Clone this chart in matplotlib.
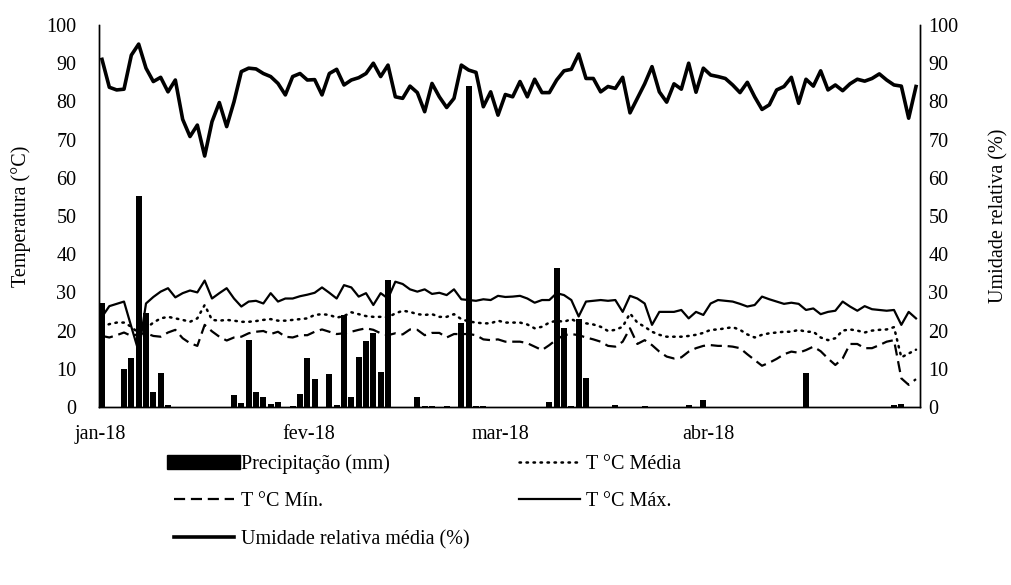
import matplotlib
matplotlib.use("Agg")
import matplotlib.pyplot as plt
import numpy as np
from matplotlib.lines import Line2D
from matplotlib.patches import Patch, Rectangle
from matplotlib.legend_handler import HandlerPatch

plt.rcParams['font.family'] = ['Liberation Serif', 'DejaVu Serif']

# ---------------- data ----------------
month_labels = ['jan-18', 'fev-18', 'mar-18', 'abr-18']

precip = [27.1, 0, 0, 9.9, 12.9, 55.2, 24.5, 4.0, 8.8, 0.4,
          0, 0, 0, 0, 0, 0, 0, 0, 3.1, 1.0,
          17.5, 4.0, 2.7, 0.9, 1.2, 0, 0.2, 3.4, 12.9, 7.3,
          0, 8.6, 0.5, 24.1, 2.7, 13.0, 17.4, 19.5, 9.1, 33.2,
          0, 0, 0, 2.7, 0.3, 0.3, 0, 0.3, 0, 22.1,
          84.0, 0.3, 0.3, 0, 0, 0, 0, 0, 0, 0,
          0, 1.4, 36.4, 20.6, 0.3, 23.0, 7.5, 0, 0, 0,
          0.5, 0, 0, 0, 0.2, 0, 0, 0, 0, 0,
          0.6, 0, 1.8, 0, 0, 0, 0, 0, 0, 0,
          0, 0, 0, 0, 0, 0, 8.8, 0, 0, 0,
          0, 0, 0, 0, 0, 0, 0, 0, 0.6, 0.8,
          0, 0]

t_media = [21.0, 21.7, 22.1, 22.1, 21.0, 19.3, 20.6, 22.1, 23.2, 23.6,
           23.2, 22.8, 22.3, 23.2, 26.7, 22.8, 22.6, 22.8, 22.6, 22.3,
           22.3, 22.5, 22.8, 23.0, 22.6, 22.6, 22.8, 23.0, 23.2, 24.1,
           24.3, 24.1, 23.4, 23.8, 24.8, 24.3, 23.8, 23.6, 23.6, 23.5,
           24.5, 25.2, 24.9, 24.3, 24.1, 24.3, 23.6, 23.6, 24.3, 23.0,
           22.4, 22.1, 21.9, 21.9, 22.6, 22.1, 22.1, 22.1, 21.6, 20.6,
           21.0, 22.1, 22.6, 22.3, 23.0, 22.1, 21.9, 21.6, 21.0, 19.9,
           20.2, 21.0, 24.5, 22.1, 21.0, 19.7, 18.9, 18.4, 18.4, 18.4,
           18.6, 18.9, 19.4, 20.2, 20.3, 20.6, 20.9, 20.2, 19.0, 18.2,
           18.9, 19.3, 19.5, 19.7, 19.7, 20.2, 19.7, 19.7, 18.2, 17.5,
           18.0, 20.0, 20.3, 20.0, 19.5, 20.0, 20.2, 20.3, 20.9, 13.0,
           14.0, 15.0]

t_min = [18.6, 18.2, 18.8, 19.5, 18.6, 19.1, 19.3, 18.6, 18.4, 19.5,
         20.2, 18.0, 16.7, 16.0, 21.5, 19.8, 18.4, 17.4, 18.2, 18.4,
         19.3, 19.7, 19.9, 19.1, 19.7, 18.4, 18.2, 18.8, 18.8, 19.7,
         20.3, 19.7, 19.1, 19.3, 19.7, 20.2, 20.6, 20.2, 19.3, 18.8,
         19.3, 19.0, 20.3, 20.2, 18.8, 19.4, 19.4, 18.2, 19.1, 19.1,
         19.1, 18.8, 17.7, 17.5, 17.7, 17.1, 17.1, 17.1, 16.7, 15.8,
         14.9, 16.2, 17.7, 18.8, 19.1, 18.8, 18.2, 17.7, 17.1, 16.0,
         15.8, 17.1, 20.6, 16.5, 17.5, 16.2, 14.5, 13.2, 12.7, 13.0,
         14.5, 15.4, 16.0, 16.2, 16.0, 16.0, 15.8, 15.4, 13.8, 12.3,
         10.8, 11.6, 12.6, 13.8, 14.5, 14.2, 14.9, 15.8, 14.6, 12.7,
         11.0, 12.7, 16.5, 16.5, 15.4, 15.4, 16.2, 17.1, 17.5, 7.5,
         5.8, 7.3]

t_max = [23.6, 26.4, 27.0, 27.6, 21.0, 14.5, 27.1, 28.8, 30.2, 31.1,
         28.7, 29.8, 30.5, 30.0, 33.1, 28.4, 29.8, 31.1, 28.4, 26.3,
         27.6, 27.8, 27.1, 29.8, 27.6, 28.4, 28.4, 29.0, 29.4, 29.9,
         31.3, 29.9, 28.4, 31.9, 31.3, 28.9, 29.8, 26.7, 29.8, 28.4,
         32.8, 32.2, 30.8, 30.2, 30.8, 29.6, 29.9, 29.3, 30.8, 28.2,
         28.0, 27.8, 28.2, 28.0, 29.1, 28.8, 28.9, 29.1, 28.4, 27.3,
         28.0, 28.0, 29.8, 29.3, 28.0, 23.7, 27.6, 27.8, 28.0, 27.8,
         28.0, 24.9, 29.1, 28.4, 27.1, 21.5, 24.9, 24.9, 24.9, 25.4,
         23.2, 24.9, 24.1, 27.1, 28.0, 27.8, 27.6, 27.0, 26.3, 26.7,
         28.9, 28.2, 27.6, 27.0, 27.3, 27.0, 25.4, 25.8, 24.3, 24.9,
         25.2, 27.6, 26.3, 25.2, 26.4, 25.6, 25.4, 25.2, 25.4, 21.5,
         24.9, 23.2]

umidade = [91.0, 83.7, 83.0, 83.2, 92.1, 95.0, 88.7, 85.2, 86.3, 82.5,
           85.6, 75.3, 70.8, 73.8, 65.7, 74.7, 79.7, 73.4, 79.9, 87.8,
           88.7, 88.5, 87.3, 86.5, 84.7, 81.7, 86.5, 87.3, 85.6, 85.7,
           81.7, 87.3, 88.4, 84.3, 85.6, 86.2, 87.3, 90.0, 86.5, 89.5,
           81.2, 80.8, 84.0, 82.3, 77.3, 84.7, 81.2, 78.4, 80.8, 89.5,
           88.2, 87.6, 78.6, 82.5, 76.4, 81.8, 81.2, 85.2, 81.2, 85.8,
           82.3, 82.3, 85.6, 88.0, 88.4, 92.4, 86.0, 86.0, 82.5, 83.9,
           83.4, 86.3, 77.0, 80.8, 84.6, 89.1, 82.5, 79.8, 84.6, 83.2,
           90.0, 82.4, 88.7, 86.9, 86.5, 86.0, 84.3, 82.3, 85.0, 81.2,
           77.9, 79.1, 83.0, 83.9, 86.3, 79.5, 85.8, 84.0, 88.0, 83.0,
           84.3, 82.8, 84.6, 85.8, 85.3, 86.0, 87.2, 85.6, 84.3, 84.0,
           75.6, 83.9]

# ---------------- figure ----------------
W, H = 1011, 585
fig = plt.figure(figsize=(W / 100, H / 100), dpi=100)
L, R, T, B = 98.5, 920, 25, 407
ax = fig.add_axes([L / W, 1 - B / H, (R - L) / W, (B - T) / H])
ax2 = ax.twinx()

n = len(t_max)
x = np.arange(n)
px_per_day = (916 - 102) / (n - 1)
x0 = 102
ax.set_xlim(-(x0 - L) / px_per_day, (n - 1) + (R - 916) / px_per_day)

FS = 14.5
dot_style = (0, (0.6, 2.2))
dash_style = (0, (5, 2.6))
ax.bar(x, precip, width=0.82, color='black', zorder=2)
ax.plot(x, t_media, color='black', lw=1.8, linestyle=dot_style,
        dash_capstyle='round', zorder=3)
ax.plot(x, t_min, color='black', lw=1.6, linestyle=dash_style, zorder=3)
ax.plot(x, t_max, color='black', lw=1.6, zorder=3)
ax2.plot(x, umidade, color='black', lw=2.6, zorder=3)

for a in (ax, ax2):
    a.set_ylim(0, 100)
    a.set_yticks(np.arange(0, 101, 10))
    a.spines['top'].set_visible(False)
    for s in ('left', 'right', 'bottom'):
        a.spines[s].set_linewidth(1.0)
ax.tick_params(axis='y', labelsize=FS, length=0, pad=16)
ax2.tick_params(axis='y', labelsize=FS, length=0, pad=6)

# month tick positions measured in pixels on the reference
tick_px = [100, 309, 500, 708]
ax.set_xticks([(p - x0) / px_per_day for p in tick_px])
ax.set_xticklabels(month_labels)
ax.tick_params(axis='x', labelsize=FS, length=0, pad=13)

ax.set_ylabel('Temperatura (°C)', fontsize=FS, labelpad=11)
ax2.set_ylabel('Umidade relativa (%)', fontsize=FS, labelpad=22)


def wide_rect(legend, orig_handle, xdescent, ydescent, width, height, fontsize):
    return Rectangle((-xdescent - 5, -ydescent), width + 9, height)


bar_handle = Patch(facecolor='black', edgecolor='black')
handles = [
    bar_handle,
    Line2D([], [], color='black', lw=1.6, linestyle=dash_style),
    Line2D([], [], color='black', lw=2.6),
    Line2D([], [], color='black', lw=1.8, linestyle=dot_style,
           dash_capstyle='round'),
    Line2D([], [], color='black', lw=1.6),
]
labels = ['Precipitação (mm)', 'T °C Mín.', 'Umidade relativa média (%)',
          'T °C Média', 'T °C Máx.']
fig.legend(handles, labels, ncol=2, loc='upper left',
           bbox_to_anchor=(166 / W, 1 - 446 / H), frameon=False,
           fontsize=FS, handlelength=3.0, handletextpad=0.3,
           labelspacing=0.92, columnspacing=2.5, borderaxespad=0,
           handler_map={bar_handle: HandlerPatch(patch_func=wide_rect)})

fig.savefig('out.png', dpi=100)
